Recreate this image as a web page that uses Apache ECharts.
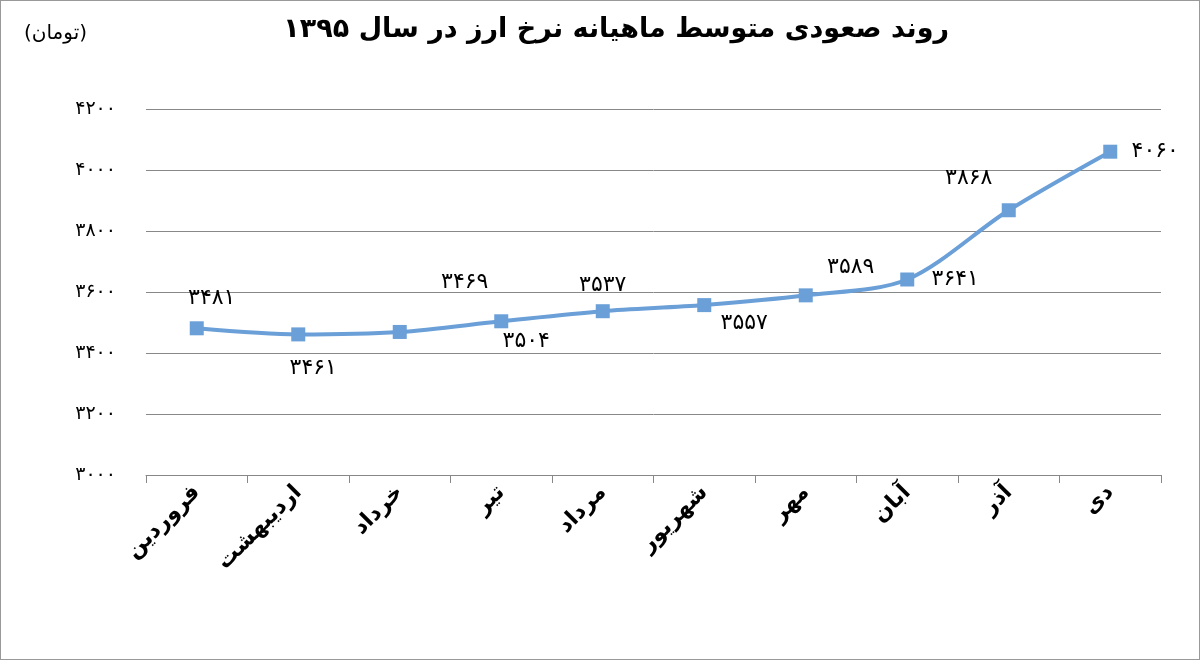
<!DOCTYPE html>
<html>
<head>
<meta charset="utf-8">
<script src="https://cdn.jsdelivr.net/npm/echarts@6/dist/echarts.min.js"></script>
<style>
  html, body { margin: 0; padding: 0; background: #fff; }
  #chart { width: 1198px; height: 658px; border: 1px solid #999; }
</style>
</head>
<body>
<div id="chart"></div>
<script>
  const months = ['فروردین', 'اردیبهشت', 'خرداد', 'تیر', 'مرداد', 'شهریور', 'مهر', 'آبان', 'آذر', 'دی']
  const rates = [3481, 3461, 3469, 3504, 3537, 3557, 3589, 3641, 3868, 4060]
  // where each value label sits, relative to its point
  const labelPos = [[15, -30], [15, 34], [65, -50], [25, 20], [0, -26], [40, 18], [45, -28], [48, 0], [-40, -32], [45, 0]]

  const fa = n => String(n).replace(/\d/g, d => '۰۱۲۳۴۵۶۷۸۹'[d])
  const font = 'DejaVu Sans'

  var myChart = echarts.init(document.getElementById('chart'))
  var option = {
    textStyle: { fontFamily: font },
    title: [
      { text: 'روند صعودی متوسط ماهیانه نرخ ارز در سال ' + fa(1395), right: 245, top: 10,
        textStyle: { fontFamily: font, fontSize: 27, fontWeight: 'bold', color: '#000' } },
      { text: '(تومان)', left: 18, top: 18, textStyle: { fontFamily: font, fontSize: 20, fontWeight: 'normal', color: '#000' } }
    ],
    grid: { left: 145, right: 38, top: 108, bottom: 184 },
    xAxis: {
      type: 'category',
      data: months,
      axisLine: { lineStyle: { color: '#888' } },
      axisTick: { show: true, interval: 0, length: 8, alignWithLabel: false, lineStyle: { color: '#888' } },
      axisLabel: { interval: 0, rotate: 45, fontSize: 22, fontWeight: 'bold', color: '#000', margin: 14 }
    },
    yAxis: {
      type: 'value', min: 3000, max: 4200, interval: 200,
      axisLine: { show: false },
      axisTick: { show: false },
      splitLine: { lineStyle: { color: '#888' } },
      axisLabel: { formatter: v => fa(v), fontSize: 19, color: '#000', margin: 30 }
    },
    series: [{
      type: 'line',
      data: rates.map((v, i) => ({
        value: v,
        label: { offset: labelPos[i] }
      })),
      smooth: 0.3,
      symbol: 'rect',
      symbolSize: 14,
      lineStyle: { color: '#6a9fd8', width: 4 },
      itemStyle: { color: '#6a9fd8' },
      label: { show: true, position: 'inside', formatter: p => fa(p.value), fontSize: 22, color: '#000' }
    }]
  }
  myChart.setOption(option)
</script>
</body>
</html>
